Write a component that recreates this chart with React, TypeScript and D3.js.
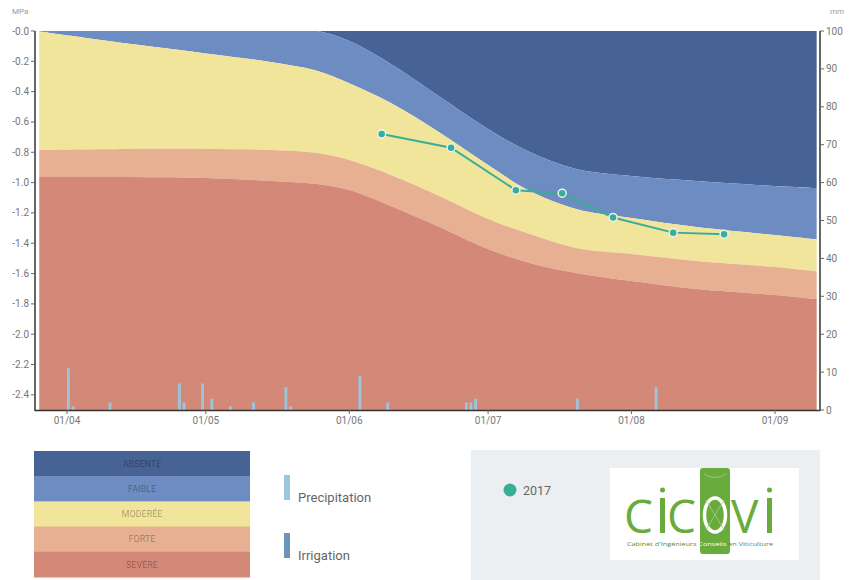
import React from "react";
import * as d3 from "d3";

const W = 856;
const H = 580;

const d = (m: number, day: number) => new Date(Date.UTC(2017, m - 1, day));

// Boundary dates and stress-zone limits (MPa)
const zoneDates = [
  d(3, 26), d(4, 15), d(5, 1), d(5, 15), d(5, 25), d(6, 1), d(6, 10), d(6, 20),
  d(7, 1), d(7, 10), d(7, 20), d(8, 1), d(8, 15), d(9, 1), d(9, 10),
];
const absenteLimit = [0, 0, 0, 0, 0, -0.066, -0.218, -0.422, -0.646, -0.798, -0.91, -0.956, -0.989, -1.022, -1.036];
const faibleLimit = [-0.003, -0.086, -0.148, -0.204, -0.262, -0.345, -0.475, -0.66, -0.884, -1.055, -1.174, -1.234, -1.293, -1.346, -1.375];
const modereeLimit = [-0.785, -0.778, -0.778, -0.785, -0.805, -0.851, -0.95, -1.082, -1.24, -1.339, -1.431, -1.471, -1.517, -1.557, -1.586];
const forteLimit = [-0.963, -0.963, -0.97, -0.989, -1.009, -1.049, -1.154, -1.286, -1.438, -1.53, -1.596, -1.649, -1.702, -1.741, -1.768];

const zoneNames = ["ABSENTE", "FAIBLE", "MODERÉE", "FORTE", "SEVÈRE"];
const zoneColors = ["#476295", "#6d8cc1", "#f1e49b", "#e8b092", "#d48878"];

// Precipitation (mm)
const precipDates = [
  d(4, 1), d(4, 2), d(4, 10), d(4, 25), d(4, 26), d(4, 30), d(5, 2), d(5, 6), d(5, 11),
  d(5, 18), d(5, 19), d(6, 3), d(6, 9), d(6, 26), d(6, 27), d(6, 28), d(7, 20), d(8, 6),
];
const precipValues = [11, 1, 2, 7, 2, 7, 3, 1, 2, 6, 1, 9, 2, 2, 2, 3, 3, 6];

// 2017 measurements (MPa)
const measureDates = [d(6, 8), d(6, 23), d(7, 7), d(7, 17), d(7, 28), d(8, 10), d(8, 21)];
const measureValues = [-0.68, -0.77, -1.05, -1.07, -1.23, -1.33, -1.34];

const monthTicks = [d(4, 1), d(5, 1), d(6, 1), d(7, 1), d(8, 1), d(9, 1)];
const mpaTicks = [0, -0.2, -0.4, -0.6, -0.8, -1.0, -1.2, -1.4, -1.6, -1.8, -2.0, -2.2, -2.4];
const mmTicks = [0, 10, 20, 30, 40, 50, 60, 70, 80, 90, 100];

const FONT = "Roboto, 'Noto Sans', sans-serif";

export default function App() {
  const left = 35;
  const right = 820;
  const top = 31;
  const bottom = 410;

  const x = d3.scaleUtc().domain([d(4, 1), d(9, 1)]).range([67, 775]);
  const y = d3.scaleLinear().domain([-2.5, 0]).range([bottom, top]);
  const yr = d3.scaleLinear().domain([0, 100]).range([bottom, top]);

  const limits = [zoneDates.map(() => 0.2), absenteLimit, faibleLimit, modereeLimit, forteLimit, zoneDates.map(() => -2.6)];

  const areas = zoneNames.map((name, i) => {
    const gen = d3
      .area<number>()
      .x((j) => x(zoneDates[j]))
      .y0((j) => y(limits[i + 1][j]))
      .y1((j) => y(limits[i][j]))
      .curve(d3.curveCatmullRom.alpha(0.5));
    return gen(zoneDates.map((_, j) => j)) as string;
  });

  const line = d3
    .line<number>()
    .x((j) => x(measureDates[j]))
    .y((j) => y(measureValues[j]))(measureDates.map((_, j) => j)) as string;

  const barW = x(d(4, 1).getTime() + 0.6 * 86400000) - x(d(4, 1));
  const fmt = (v: number) => "-" + Math.abs(v).toFixed(1);
  const fmtDate = d3.utcFormat("%d/%m");

  const legendY0 = 451;
  const rowH = 25.2;

  return (
    <svg width={W} height={H} style={{ position: "absolute", left: 0, top: 0 }} fontFamily={FONT}>
      <defs>
        <clipPath id="plot">
          <rect x={39} y={top} width={right - 1 - 39} height={bottom - top} />
        </clipPath>
      </defs>
      <g clipPath="url(#plot)">
        {areas.map((p, i) => (
          <path key={i} d={p} fill={zoneColors[i]} />
        ))}
        {precipDates.map((dt, i) => (
          <rect
            key={i}
            x={x(dt)}
            y={yr(precipValues[i])}
            width={barW}
            height={bottom - yr(precipValues[i])}
            fill="#9cc6de"
          />
        ))}
      </g>
      <path d={line} fill="none" stroke="#39ae96" strokeWidth={2} />
      {measureDates.map((dt, i) => (
        <circle key={i} cx={x(dt)} cy={y(measureValues[i])} r={4} fill="#39ae96" stroke="#e8f4f1" strokeWidth={1.5} />
      ))}

      {/* axes */}
      <line x1={left} x2={left} y1={top} y2={bottom + 1} stroke="#333" strokeWidth={1.5} />
      <line x1={right} x2={right} y1={top} y2={bottom + 1} stroke="#333" strokeWidth={1.5} />
      <line x1={left} x2={right} y1={bottom + 0.5} y2={bottom + 0.5} stroke="#333" strokeWidth={1.5} />
      {mpaTicks.map((t) => (
        <g key={t}>
          <line x1={left - 4} x2={left} y1={y(t)} y2={y(t)} stroke="#666" />
          <text x={left - 6} y={y(t)} dy="0.35em" textAnchor="end" fontSize={10} fill="#777">
            {fmt(t)}
          </text>
        </g>
      ))}
      {mmTicks.map((t) => (
        <g key={t}>
          <line x1={right} x2={right + 4} y1={yr(t)} y2={yr(t)} stroke="#666" />
          <text x={right + 6} y={yr(t)} dy="0.35em" textAnchor="start" fontSize={10} fill="#777">
            {t}
          </text>
        </g>
      ))}
      {monthTicks.map((t) => (
        <g key={t.getTime()}>
          <line x1={x(t)} x2={x(t)} y1={bottom} y2={bottom + 4} stroke="#666" />
          <text x={x(t)} y={424} textAnchor="middle" fontSize={10} fill="#777">
            {fmtDate(t)}
          </text>
        </g>
      ))}
      <text x={12} y={14} fontSize={8} fill="#999">MPa</text>
      <text x={830} y={14} fontSize={8} fill="#999">mm</text>

      {/* zone legend */}
      {zoneNames.map((n, i) => (
        <g key={n}>
          <rect x={34} y={legendY0 + i * rowH} width={216} height={rowH + 0.5} fill={zoneColors[i]} />
          <text
            x={142}
            y={legendY0 + i * rowH + rowH / 2}
            dy="0.35em"
            textAnchor="middle"
            fontSize={9}
            fill="#000"
            fillOpacity={0.33}
          >
            {n}
          </text>
        </g>
      ))}

      {/* precipitation / irrigation legend */}
      <rect x={284} y={475} width={6} height={25} fill="#9cc6de" />
      <text x={298} y={502} fontSize={13} fill="#666">Precipitation</text>
      <rect x={284} y={533} width={6} height={25} fill="#6b95b8" />
      <text x={298} y={560} fontSize={13} fill="#666">Irrigation</text>

      {/* series legend & logo */}
      <rect x={471} y={450} width={349} height={130} fill="#eceff1" />
      <circle cx={510} cy={490} r={6.5} fill="#39ae96" />
      <text x={523} y={495} fontSize={12.5} fill="#666">2017</text>

      <rect x={610} y={468} width={189} height={92} fill="#fff" />
      <g fill="#6aab3d" fontFamily="'Open Sans', 'DejaVu Sans', sans-serif">
        <text x={624} y={533} fontSize={46}>C</text>
        <rect x={660} y={498} width={5} height={35} />
        <circle cx={662.5} cy={490} r={2.5} />
        <text x={667} y={533} fontSize={46}>C</text>
        <rect x={700} y={468} width={30} height={86} rx={3} />
        <ellipse cx={715} cy={515} rx={10.5} ry={17} fill="none" stroke="#fff" strokeWidth={3.5} />
        <path d="M704,474 Q715,481 726,474 M706,500 L724,530 M724,500 L706,530" stroke="#a8cf88" strokeWidth={0.8} fill="none" />
        <text x={731} y={533} fontSize={46}>V</text>
        <rect x={767} y={498} width={5} height={35} />
        <circle cx={769.5} cy={490} r={2.5} />
      </g>
      <text x={627} y={546} fontSize={5.5} textLength={146} lengthAdjust="spacingAndGlyphs" fill="#5a8a30" fontFamily="'Open Sans', sans-serif">
        Cabinet d'Ingénieurs <tspan fill="#fff">Conseils</tspan> en Viticulture
      </text>
    </svg>
  );
}
